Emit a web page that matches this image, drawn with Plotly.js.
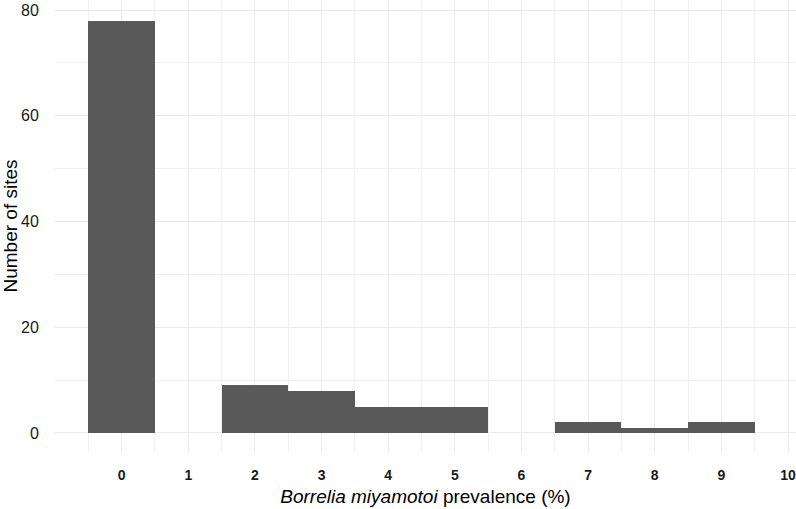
<!DOCTYPE html>
<html>
<head>
<meta charset="utf-8">
<script src="https://cdn.plot.ly/plotly-3.0.1.min.js"></script>
<style>html,body{margin:0;padding:0;background:#fff;} #chart{width:796px;height:509px;}</style>
</head>
<body>
<div id="chart"></div>
<script>
var prevalence = [0, 1, 2, 3, 4, 5, 6, 7, 8, 9];
var sites = [78, 0, 9, 8, 5, 5, 0, 2, 1, 2];
var xTicks = [0, 1, 2, 3, 4, 5, 6, 7, 8, 9, 10];
var yTicks = [0, 20, 40, 60, 80];

var trace = {
  type: 'bar',
  x: prevalence,
  y: sites,
  width: 1,
  marker: {color: '#595959', line: {width: 0}},
  hoverinfo: 'x+y'
};

var layout = {
  width: 796, height: 509,
  margin: {l: 55, r: 0, t: 0, b: 57},
  paper_bgcolor: '#ffffff',
  plot_bgcolor: '#ffffff',
  showlegend: false,
  bargap: 0,
  font: {family: 'Liberation Sans, Arial, sans-serif', color: '#000'},
  xaxis: {
    range: [-1, 10.12],
    tickvals: xTicks,
    ticktext: xTicks.map(function (v) { return '<b>' + v + '</b>'; }),
    showgrid: true, gridcolor: '#ebebeb', gridwidth: 1,
    minor: {dtick: 0.5, tick0: 0, showgrid: true, gridcolor: '#f0f0f0', gridwidth: 1},
    zeroline: false, showline: false,
    ticks: 'outside', ticklen: 10, tickcolor: 'rgba(0,0,0,0)',
    tickfont: {size: 14, color: '#1a1a1a', family: 'Liberation Sans Narrow, Liberation Sans, Arial, sans-serif'},
    title: {text: '<i>Borrelia miyamotoi</i> prevalence (%)', font: {size: 19, color: '#000'}, standoff: 7}
  },
  yaxis: {
    range: [-3.6, 81.9],
    tickvals: yTicks,
    showgrid: true, gridcolor: '#ebebeb', gridwidth: 1,
    minor: {dtick: 10, tick0: 0, showgrid: true, gridcolor: '#f0f0f0', gridwidth: 1},
    zeroline: false, showline: false,
    ticks: 'outside', ticklen: 12, tickcolor: 'rgba(0,0,0,0)',
    tickfont: {size: 16, color: '#1a1a1a'},
    title: {text: 'Number of sites', font: {size: 19, color: '#000'}, standoff: 4}
  }
};

Plotly.newPlot('chart', [trace], layout, {displayModeBar: false, staticPlot: true});
</script>
</body>
</html>
